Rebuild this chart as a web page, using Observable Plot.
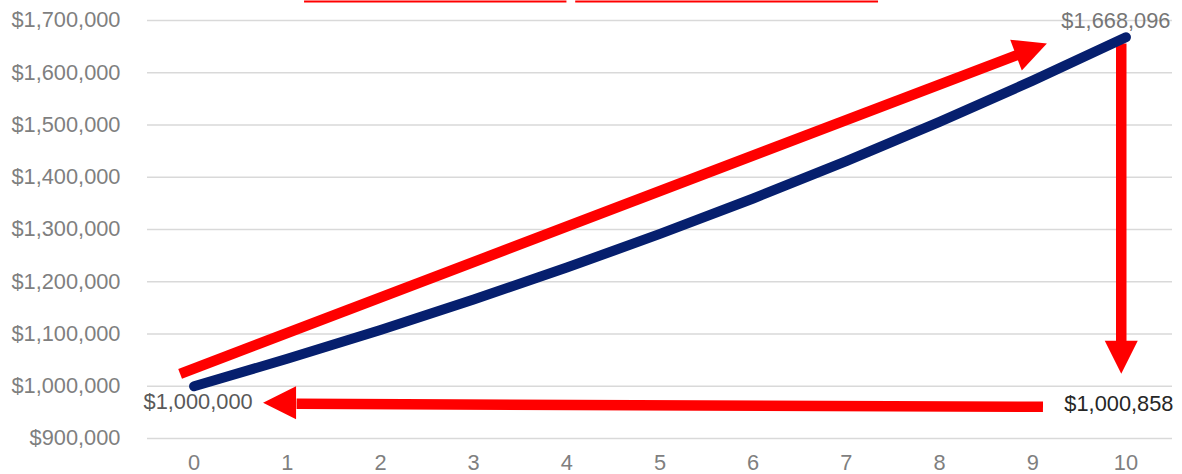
<!DOCTYPE html>
<html>
<head>
<meta charset="utf-8">
<script src="https://cdn.jsdelivr.net/npm/d3@7"></script>
<script src="https://cdn.jsdelivr.net/npm/@observablehq/plot@0.6"></script>
<style>
  body { margin: 0; background: #ffffff; }
  #chart svg { display: block; }
</style>
</head>
<body>
<div id="chart"></div>
<script>
// ---- chart data ----
const years = [0, 1, 2, 3, 4, 5, 6, 7, 8, 9, 10];
const balance = [1000000, 1052500, 1107756, 1165913, 1227124, 1291548, 1359354, 1430720, 1505833, 1584889, 1668096];
const yTicks = [900000, 1000000, 1100000, 1200000, 1300000, 1400000, 1500000, 1600000, 1700000];
const xTicks = [0, 1, 2, 3, 4, 5, 6, 7, 8, 9, 10];

// ---- annotations (data units) ----
const labelEndValue = 1668096;
const labelStartValue = 1000000;
const labelRealValue = 1000858;

// red arrow shafts: diagonal, vertical, horizontal
const shaftX1 = [-0.15, 9.95, 9.11];
const shaftY1 = [1023755, 1655939, 960536];
const shaftX2 = [8.86, 9.95, 1.10];
const shaftY2 = [1635824, 1077395, 966284];
// red arrow heads (tips)
const headX = [9.152, 9.95, 0.740];
const headY = [1655939, 1023755, 968199];
const headAngle = [69.4, 180, 270];
// red underline fragments at the top (cut-off title)
const topLineX1 = [1.18, 4.09];
const topLineX2 = [3.996, 7.34];
const topLineY = [1736398, 1736398];

const series = years.map((t, i) => ({year: t, value: balance[i]}));
const shafts = shaftX1.map((_, i) => ({x1: shaftX1[i], y1: shaftY1[i], x2: shaftX2[i], y2: shaftY2[i]}));
const heads = headX.map((_, i) => ({x: headX[i], y: headY[i], a: headAngle[i]}));
const tops = topLineX1.map((_, i) => ({x1: topLineX1[i], x2: topLineX2[i], y: topLineY[i]}));

const fmt = d3.format("$,.0f");
const RED = "#ff0000";
const FS = 21.8;

const chart = Plot.plot({
  width: 1182,
  height: 474,
  marginLeft: 147,
  marginRight: 10,
  marginTop: 20,
  marginBottom: 36,
  style: {fontFamily: "'Liberation Sans', Arial, sans-serif", fontSize: FS + "px", background: "#ffffff", color: "#7f7f7f"},
  x: {type: "linear", domain: [-0.5, 10.5]},
  y: {domain: [900000, 1700000]},
  marks: [
    Plot.gridY(yTicks, {stroke: "#d9d9d9", strokeOpacity: 1, strokeWidth: 1.3}),
    Plot.axisY({ticks: yTicks, tickSize: 0, tickPadding: 27, tickFormat: fmt, color: "#7f7f7f", label: null}),
    Plot.axisX({ticks: xTicks, tickSize: 0, tickPadding: 16, tickFormat: d => String(d), color: "#7f7f7f", label: null}),
    // top red fragments
    Plot.link(tops, {x1: "x1", x2: "x2", y1: "y", y2: "y", stroke: RED, strokeWidth: 2.2}),
    // arrow shafts
    Plot.link(shafts, {x1: "x1", y1: "y1", x2: "x2", y2: "y2", stroke: RED, strokeWidth: 10.5, strokeLinecap: "butt"}),
    // arrow heads
    Plot.vector(heads, {x: "x", y: "y", rotate: "a", shape: "spike", anchor: "end", length: 33, r: 16.5, fill: RED, fillOpacity: 1, stroke: "none"}),
    // main series
    Plot.line(series, {x: "year", y: "value", stroke: "#061f6e", strokeWidth: 10, strokeLinecap: "round", strokeLinejoin: "round"}),
    // data labels
    Plot.text([{x: 10, y: labelEndValue}], {x: "x", y: "y", text: d => fmt(d.y), dx: -10, dy: -16, fill: "#767676", fontSize: FS}),
    Plot.text([{x: 0, y: labelStartValue}], {x: "x", y: "y", text: d => fmt(d.y), dx: 4, dy: 16, fill: "#595959", fontSize: FS}),
    Plot.text([{x: 10, y: labelRealValue}], {x: "x", y: "y", text: d => fmt(d.y), dx: -7, dy: 18.5, fill: "#262626", fontSize: FS})
  ]
});
document.getElementById("chart").appendChild(chart);
</script>
</body>
</html>
